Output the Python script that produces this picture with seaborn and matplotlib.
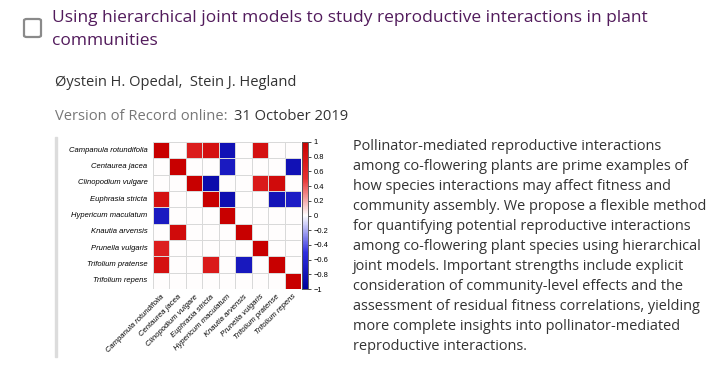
import numpy as np
import pandas as pd
import seaborn as sns
import matplotlib.pyplot as plt
from matplotlib.colors import LinearSegmentedColormap
from matplotlib.patches import FancyBboxPatch, Rectangle

# data: residual correlations (0 = blank cell)
species = ["Campanula rotundifolia", "Centaurea jacea", "Clinopodium vulgare",
           "Euphrasia stricta", "Hypericum maculatum", "Knautia arvensis",
           "Prunella vulgaris", "Trifolium pratense", "Trifolium repens"]
corr = [
    [1.0, 0, 0.70, 0.82, -0.82, 0, 0.82, 0, 0],
    [0, 1.0, 0, 0, -0.72, 0, 0, 0, -0.82],
    [0, 0, 1.0, -0.88, 0, 0, 0.72, 0.88, 0],
    [0.82, 0, 0, 1.0, -0.85, 0, 0, -0.80, -0.70],
    [-0.72, 0, 0, 0, 1.0, 0, 0, 0, 0],
    [0, 0.88, 0, 0, 0, 1.0, 0, 0, 0],
    [0.68, 0, 0, 0, 0, 0, 1.0, 0, 0],
    [0.82, 0, 0, 0.72, 0, -0.75, 0, 1.0, 0],
    [0, 0, 0, 0, 0, 0, 0, 0, 1.0],
]
cbar_ticks = [1, 0.8, 0.6, 0.4, 0.2, 0, -0.2, -0.4, -0.6, -0.8, -1]

title_lines = ["Using hierarchical joint models to study reproductive interactions in plant",
               "communities"]
authors = "Øystein H. Opedal,  Stein J. Hegland"
version_label = "Version of Record online:"
version_date = "31 October 2019"
abstract_lines = [
    "Pollinator-mediated reproductive interactions",
    "among co-flowering plants are prime examples of",
    "how species interactions may affect fitness and",
    "community assembly. We propose a flexible method",
    "for quantifying potential reproductive interactions",
    "among co-flowering plant species using hierarchical",
    "joint models. Important strengths include explicit",
    "consideration of community-level effects and the",
    "assessment of residual fitness correlations, yielding",
    "more complete insights into pollinator-mediated",
    "reproductive interactions.",
]

W, H = 723, 367
fig = plt.figure(figsize=(W / 100, H / 100), dpi=100)
fig.patch.set_facecolor("white")

def fx(x):
    return x / W

def fy(y):
    return 1 - y / H

# page text
checkbox = FancyBboxPatch((fx(24), fy(37)), fx(17), 18 / H,
                          boxstyle="round,pad=0,rounding_size=0.004",
                          transform=fig.transFigure, fill=False,
                          edgecolor="#8a8a8a", linewidth=1.6)
fig.patches.append(checkbox)

for i, line in enumerate(title_lines):
    fig.text(fx(52), fy(18 + 23 * i), line, family="Open Sans", fontsize=12.5,
             color="#521b5c", va="center", ha="left")

fig.text(fx(55), fy(82), authors, family="Open Sans", fontsize=10.5,
         color="#333333", va="center")
fig.text(fx(55), fy(116), version_label, family="Open Sans", fontsize=10.6,
         color="#777777", va="center")
fig.text(fx(234), fy(116), version_date, family="Open Sans", fontsize=10.6,
         color="#333333", va="center")

for i, line in enumerate(abstract_lines):
    fig.text(fx(353), fy(147 + 20 * i), line, family="Open Sans", fontsize=10.45,
             color="#333333", va="center")

# gray bar on the left of the figure image
fig.patches.append(Rectangle((fx(55), fy(357)), fx(2.5), 220 / H,
                             transform=fig.transFigure, color="#dcdcdc"))

# heatmap
df = pd.DataFrame(corr, index=species, columns=species)
cmap = LinearSegmentedColormap.from_list(
    "bwr_corr", ["#00009c", "#3030e0", "#ffffff", "#e83030", "#c80000"])

ax = fig.add_axes([fx(153), fy(289), fx(148), 147 / H])
cax = fig.add_axes([fx(302), fy(289), fx(6), 147 / H])
sns.heatmap(df, ax=ax, cbar_ax=cax, cmap=cmap, vmin=-1, vmax=1,
            linewidths=0.5, linecolor="#d9d9d9", square=False)

ax.tick_params(length=0, pad=4)
ax.set_yticklabels(species, rotation=0, fontsize=5.5, style="italic",
                   family="Liberation Sans")
ax.set_xticklabels(species, rotation=45, ha="right", rotation_mode="anchor",
                   fontsize=5.5, style="italic", family="Liberation Sans")
ax.tick_params(axis="x", pad=3)
ax.set_xlabel("")
ax.set_ylabel("")

cax.set_yticks(cbar_ticks)
cax.set_yticklabels([f"{v:g}".replace("-", "\u2212") if v != 0 else "0" for v in cbar_ticks],
                    fontsize=5.4, family="Liberation Sans")
cax.tick_params(length=2, width=0.5, pad=2)
for s in cax.spines.values():
    s.set_visible(True)
    s.set_linewidth(0.5)
    s.set_color("#555555")

fig.savefig("out.png", dpi=100)
